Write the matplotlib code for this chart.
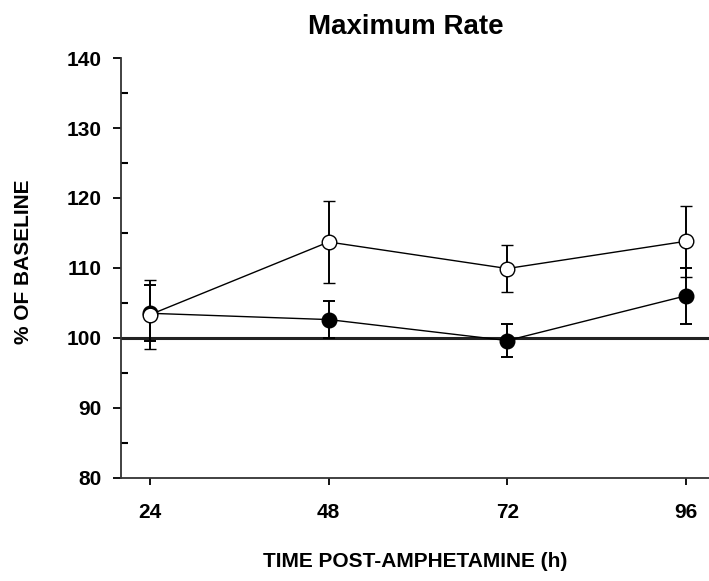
import numpy as np
import matplotlib
matplotlib.use('Agg')
import matplotlib.pyplot as plt
from matplotlib.ticker import MultipleLocator

font = {'family': 'Liberation Sans',
        'weight': 'bold',
        'size': 15}
plt.rc('font', **font)
plt.rc('axes', labelweight='bold')

hours = [24, 48, 72, 96]
open_mean = [103.3, 113.7, 109.9, 113.8]
open_err = [4.9, 5.9, 3.4, 5.1]
filled_mean = [103.5, 102.6, 99.6, 106.0]
filled_err = [4.0, 2.7, 2.4, 4.0]
yticks = [80, 90, 100, 110, 120, 130, 140]

fig = plt.figure(figsize=(7.09, 5.81), dpi=100)
ax = fig.add_axes([0.1707, 0.178, 0.8293, 0.722])

ax.axhline(100, color='#222222', lw=2.2, zorder=1)

ax.errorbar(hours, filled_mean, yerr=filled_err, color='black', lw=1.0,
            elinewidth=1.4, capsize=4, capthick=1.4, marker='o', ms=10.5,
            mfc='black', mec='black', zorder=3)
ax.errorbar(hours, open_mean, yerr=open_err, color='black', lw=1.0,
            elinewidth=1.4, capsize=4, capthick=1.4, marker='o', ms=10.5,
            mfc='white', mec='black', mew=1.0, zorder=4)

ax.set_xlim(20.1, 99.1)
ax.set_ylim(80, 140)
ax.set_xticks(hours)
ax.set_yticks(yticks)
ax.yaxis.set_minor_locator(MultipleLocator(5))

for s in ['top', 'right']:
    ax.spines[s].set_visible(False)
ax.spines['left'].set_linewidth(1.3)
ax.spines['bottom'].set_linewidth(1.3)
ax.spines['left'].set_color('#333333')
ax.spines['bottom'].set_color('#333333')

ax.tick_params(axis='y', which='major', direction='out', length=6, width=1.3, pad=8)
ax.tick_params(axis='y', which='minor', direction='in', length=5, width=1.5)
ax.tick_params(axis='x', which='major', direction='out', length=5, width=1.3, pad=13)

ax.set_xlabel('TIME POST-AMPHETAMINE (h)', labelpad=22)
ax.set_ylabel('% OF BASELINE')
ax.yaxis.set_label_coords(-0.150, 0.514)
fig.text(0.573, 0.953, 'Maximum Rate', ha='center', va='center', fontsize=20, fontweight='bold')

plt.savefig('out.png', dpi=100)
